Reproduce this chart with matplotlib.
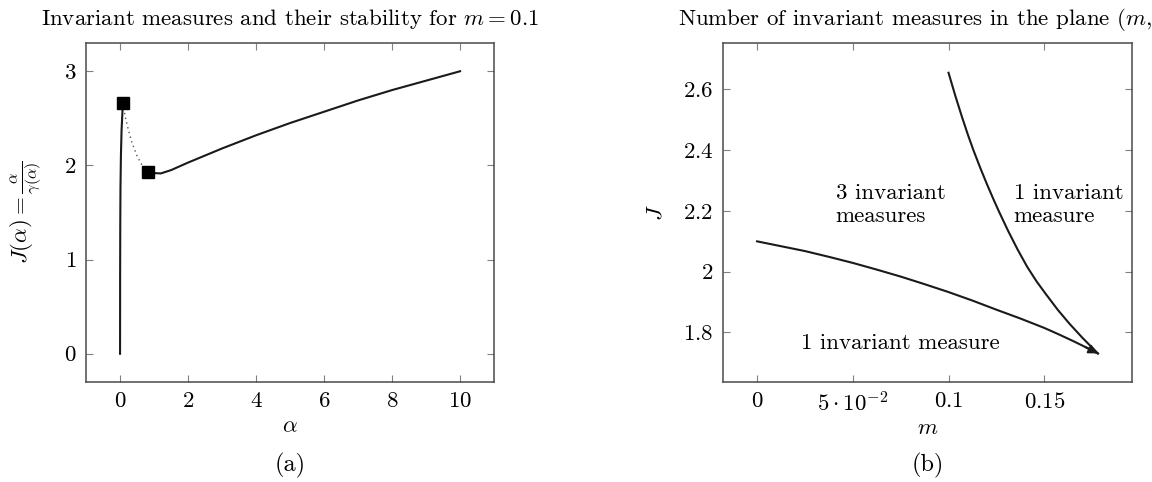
import matplotlib
matplotlib.use("Agg")
import matplotlib.pyplot as plt

plt.rcParams['font.family'] = 'serif'
plt.rcParams['font.serif'] = ['cmr10']
plt.rcParams['mathtext.fontset'] = 'cm'
plt.rcParams['axes.formatter.use_mathtext'] = True

# panel (a): J(alpha) for m = 0.1, three branches
alpha_up = [0, 0.002, 0.006, 0.012, 0.025, 0.045, 0.07, 0.09]
J_up = [0, 0.8, 1.35, 1.75, 2.1, 2.38, 2.57, 2.66]
alpha_unst = [0.09, 0.15, 0.25, 0.35, 0.5, 0.65, 0.83]
J_unst = [2.66, 2.52, 2.37, 2.24, 2.1, 2.0, 1.93]
alpha_low = [0.83, 1.0, 1.2, 1.5, 2, 2.5, 3, 3.5, 4, 4.5, 5, 5.5, 6, 6.5,
             7, 7.5, 8, 8.5, 9, 9.5, 10]
J_low = [1.93, 1.918, 1.915, 1.95, 2.03, 2.105, 2.18, 2.25, 2.32, 2.385,
         2.45, 2.51, 2.57, 2.63, 2.69, 2.745, 2.8, 2.85, 2.9, 2.95, 3.0]

# panel (b): bifurcation curves in (m, J)
m_lower = [0, 0.0125, 0.025, 0.0375, 0.05, 0.0625, 0.075, 0.0875, 0.1,
           0.1125, 0.125, 0.1375, 0.15, 0.1575, 0.165, 0.1715, 0.178]
J_lower = [2.1, 2.084, 2.068, 2.049, 2.029, 2.007, 1.984, 1.959, 1.933,
           1.905, 1.875, 1.846, 1.815, 1.794, 1.772, 1.752, 1.731]
m_upper = [0.1, 0.1035, 0.107, 0.11, 0.113, 0.1165, 0.12, 0.1235, 0.1265,
           0.131, 0.136, 0.141, 0.146, 0.151, 0.157, 0.163, 0.17, 0.178]
J_upper = [2.655, 2.58, 2.51, 2.453, 2.4, 2.343, 2.289, 2.238, 2.196,
           2.136, 2.074, 2.017, 1.968, 1.925, 1.875, 1.83, 1.782, 1.731]

a_xticks = [0, 2, 4, 6, 8, 10]
a_yticks = [0, 1, 2, 3]
b_xticks = [0, 0.05, 0.1, 0.15]
b_xlabels = ['$0$', r'$5\cdot10^{-2}$', '$0.1$', '$0.15$']
b_yticks = [1.8, 2.0, 2.2, 2.4, 2.6]
b_ylabels = ['$1.8$', '$2$', '$2.2$', '$2.4$', '$2.6$']

fs = 16.5
fig = plt.figure(figsize=(11.52, 4.82), dpi=100)
ax1 = fig.add_axes([0.0747, 0.2075, 0.3542, 0.7033])
ax2 = fig.add_axes([0.6276, 0.2075, 0.355, 0.7033])

for ax in (ax1, ax2):
    for s in ax.spines.values():
        s.set_color('#4a4a4a')
        s.set_linewidth(1.1)
    ax.tick_params(direction='in', top=True, right=True, length=5,
                   width=0.8, color='#808080', labelsize=fs, pad=7)

lc = '#1a1a1a'
ax1.plot(alpha_up, J_up, color=lc, lw=1.5)
ax1.plot(alpha_unst, J_unst, color='#555555', lw=1.0, ls=(0, (1, 2.5)))
ax1.plot(alpha_low, J_low, color=lc, lw=1.5)
ax1.plot([alpha_unst[0], alpha_unst[-1]], [J_unst[0], J_unst[-1]], 's',
         color='black', ms=8)
ax1.set_xlim(-1, 11)
ax1.set_ylim(-0.3, 3.3)
ax1.set_xticks(a_xticks)
ax1.set_xticklabels(['$%d$' % v for v in a_xticks])
ax1.set_yticks(a_yticks)
ax1.set_yticklabels(['$%d$' % v for v in a_yticks])
ax1.set_xlabel(r'$\alpha$', fontsize=fs, labelpad=4)
ax1.set_ylabel(r'$J(\alpha) = \frac{\alpha}{\gamma(\alpha)}$', fontsize=fs, labelpad=14)
ax1.set_title(r'Invariant measures and their stability for $m = 0.1$',
              fontsize=fs, pad=13)
ax1.text(0.5, -0.245, '(a)', transform=ax1.transAxes, ha='center',
         va='center', fontsize=fs + 1)

ax2.plot(m_lower, J_lower, color=lc, lw=1.5)
ax2.plot(m_upper, J_upper, color=lc, lw=1.5)
ax2.annotate('', xy=(m_lower[-1], J_lower[-1]), xytext=(m_lower[-2], J_lower[-2]),
             arrowprops=dict(arrowstyle='-|>', color=lc, lw=1.5,
                             mutation_scale=13, shrinkA=0, shrinkB=0))
ax2.set_xlim(-0.0178, 0.1958)
ax2.set_ylim(1.637, 2.753)
ax2.set_xticks(b_xticks)
ax2.set_xticklabels(b_xlabels)
ax2.set_yticks(b_yticks)
ax2.set_yticklabels(b_ylabels)
ax2.set_xlabel('$m$', fontsize=fs, labelpad=2)
ax2.set_ylabel('$J$', fontsize=fs, labelpad=12)
ax2.set_title(r'Number of invariant measures in the plane $(m, J)$',
              fontsize=fs, pad=13)
ax2.text(0.041, 2.22, '3 invariant\nmeasures', fontsize=fs, ha='left',
         va='center', linespacing=1.25)
ax2.text(0.134, 2.22, '1 invariant\nmeasure', fontsize=fs, ha='left',
         va='center', linespacing=1.25)
ax2.text(0.075, 1.764, '1 invariant measure', fontsize=fs, ha='center',
         va='center')
ax2.text(0.5, -0.245, '(b)', transform=ax2.transAxes, ha='center',
         va='center', fontsize=fs + 1)

fig.savefig('out.png', dpi=100)
